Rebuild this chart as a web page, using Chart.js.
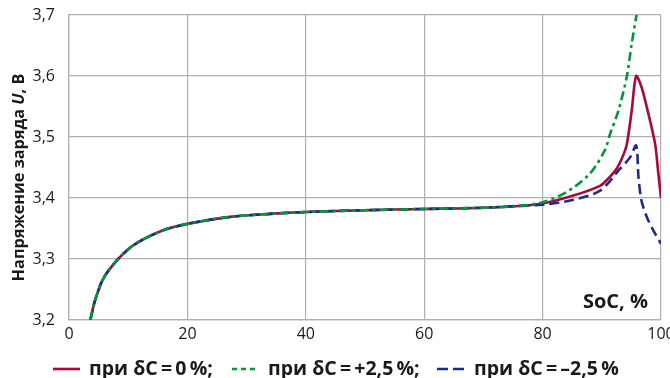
<!DOCTYPE html>
<html><head><meta charset="utf-8">
<script src="https://cdn.jsdelivr.net/npm/chart.js@4.4.1/dist/chart.umd.min.js"></script>
<style>html,body{margin:0;padding:0;background:#fff}#wrap{width:670px;height:378px}</style>
</head><body><div id="wrap"><canvas id="c" width="670" height="378"></canvas></div>
<script>
// Shared part of all three curves (SoC %, U V)
const commonSoC = [3.6, 4.4, 5.8, 8.3, 11.1, 15.9, 20.2, 27.2, 34, 40, 50, 60, 70, 76];
const commonU   = [3.2, 3.232, 3.268, 3.300, 3.324, 3.347, 3.358, 3.369, 3.374, 3.377, 3.380, 3.382, 3.384, 3.387];
// δC = 0 %
const tail0SoC = [80, 85.2, 89.7, 91, 92.5, 93.4, 94.2, 95.05, 95.8, 96.7, 97.6, 99, 99.5, 100];
const tail0U   = [3.391, 3.404, 3.420, 3.431, 3.448, 3.465, 3.487, 3.543, 3.600, 3.582, 3.549, 3.489, 3.445, 3.400];
// δC = +2,5 %
const tailPSoC = [80, 84.1, 88, 90.5, 91.4, 92.8, 94.2, 95.05, 95.9];
const tailPU   = [3.393, 3.410, 3.440, 3.478, 3.505, 3.543, 3.598, 3.653, 3.702];
// δC = -2,5 %
const tailMSoC = [80, 85.2, 89.7, 93.1, 94.8, 95.8, 96.2, 96.7, 97.6, 98.7, 100];
const tailMU   = [3.389, 3.397, 3.412, 3.448, 3.467, 3.486, 3.434, 3.396, 3.369, 3.347, 3.325];

const xTicks = [0, 20, 40, 60, 80, 100];
const yTicks = [3.2, 3.3, 3.4, 3.5, 3.6, 3.7];
const legendLabels = ['при δC\u2009=\u20090\u2009%;', 'при δC\u2009=\u2009+2,5\u2009%;', 'при δC\u2009=\u2009–2,5\u2009%'];
const yTitle = [['Напряжение заряда ','n'],['U','i'],[', В','n']];
const xTitle = 'SoC, %';

const colors = ['#a50a3c', '#00953e', '#1d2b85'];
const dashes = [[], [9,4,3,4], [10,5]];
const legendDashes = [[], [5,4], [11,5]];

function pts(sx, sy){ const a=[]; for(let i=0;i<sx.length;i++) a.push({x:sx[i], y:sy[i]}); return a; }
function series(tx, ty){ return pts(commonSoC.concat(tx), commonU.concat(ty)); }

const FONT = '"Open Sans", "DejaVu Sans", sans-serif';

function fontFor(style, size){
  if(style==='i') return 'italic 700 '+size+'px '+FONT;
  return '700 '+size+'px '+FONT;
}
function measureRich(ctx, segs, size){
  let w=0;
  segs.forEach(s=>{ctx.font=fontFor(s[1],size); w+=ctx.measureText(s[0]).width;});
  return w;
}
function paintRich(ctx, segs, x, y, size){
  let cx=x;
  segs.forEach(s=>{ctx.font=fontFor(s[1],size); ctx.fillText(s[0],cx,y); cx+=ctx.measureText(s[0]).width;});
  return cx;
}

const extras = {
  id:'extras',
  afterDraw(chart){
    const ctx=chart.ctx;
    ctx.save();
    ctx.fillStyle='#1a1a1a';
    ctx.textBaseline='alphabetic';
    ctx.textAlign='left';
    // y title
    ctx.save();
    ctx.translate(24, 177.5);
    ctx.rotate(-Math.PI/2);
    const tw = measureRich(ctx, yTitle, 16.3);
    paintRich(ctx, yTitle, -tw/2, 0, 16.3);
    ctx.restore();
    // x title
    ctx.font='700 20px '+FONT;
    ctx.textAlign='right';
    ctx.fillText(xTitle, 648, 308);
    ctx.textAlign='left';
    // legend
    const lx=[53,232,437], tx=[89,268,474], ly=369;
    for(let i=0;i<3;i++){
      ctx.save();
      ctx.strokeStyle=colors[i]; ctx.lineWidth=2.6; ctx.setLineDash(legendDashes[i]);
      ctx.beginPath(); ctx.moveTo(lx[i],ly); ctx.lineTo(lx[i]+27,ly); ctx.stroke();
      ctx.restore();
      ctx.font='700 19.5px '+FONT;
      ctx.fillText(legendLabels[i], tx[i], 375);
    }
    ctx.restore();
  }
};

new Chart(document.getElementById('c'), {
  type:'line',
  data:{datasets:[
    {label:'+2,5', data:series(tailPSoC,tailPU), borderColor:colors[1], borderDash:dashes[1], order:0},
    {label:'-2,5', data:series(tailMSoC,tailMU), borderColor:colors[2], borderDash:dashes[2], order:1},
    {label:'0', data:series(tail0SoC,tail0U), borderColor:colors[0], borderDash:dashes[0], order:2}
  ].map(d=>Object.assign(d,{borderWidth:2.6, pointRadius:0, fill:false, tension:0.3}))},
  options:{
    responsive:false, animation:false, devicePixelRatio:1,
    layout:{padding:{left:0, right:9, top:15, bottom:28}},
    plugins:{legend:{display:false}, tooltip:{enabled:false}},
    scales:{
      x:{type:'linear', min:0, max:100,
        afterBuildTicks(s){ s.ticks = xTicks.map(v=>({value:v})); },
        afterFit(s){ s.height=30; s.paddingLeft=0; s.paddingRight=0; },
        grid:{color:'#b0b0b0', lineWidth:1.2, drawTicks:false},
        border:{color:'#b0b0b0', width:1.2},
        ticks:{padding:5, maxRotation:0, color:'#1a1a1a', font:{family:FONT, size:16}, callback:v=>String(v)}
      },
      y:{type:'linear', min:3.2, max:3.7,
        afterBuildTicks(s){ s.ticks = yTicks.map(v=>({value:v})); },
        afterFit(s){ s.width=69; s.paddingTop=0; s.paddingBottom=0; },
        grid:{color:'#b0b0b0', lineWidth:1.2, drawTicks:false},
        border:{color:'#b0b0b0', width:1.2},
        ticks:{padding:14, color:'#1a1a1a', font:{family:FONT, size:16}, callback:v=>v.toFixed(1).replace('.',',')}
      }
    }
  },
  plugins:[extras]
});
</script></body></html>
